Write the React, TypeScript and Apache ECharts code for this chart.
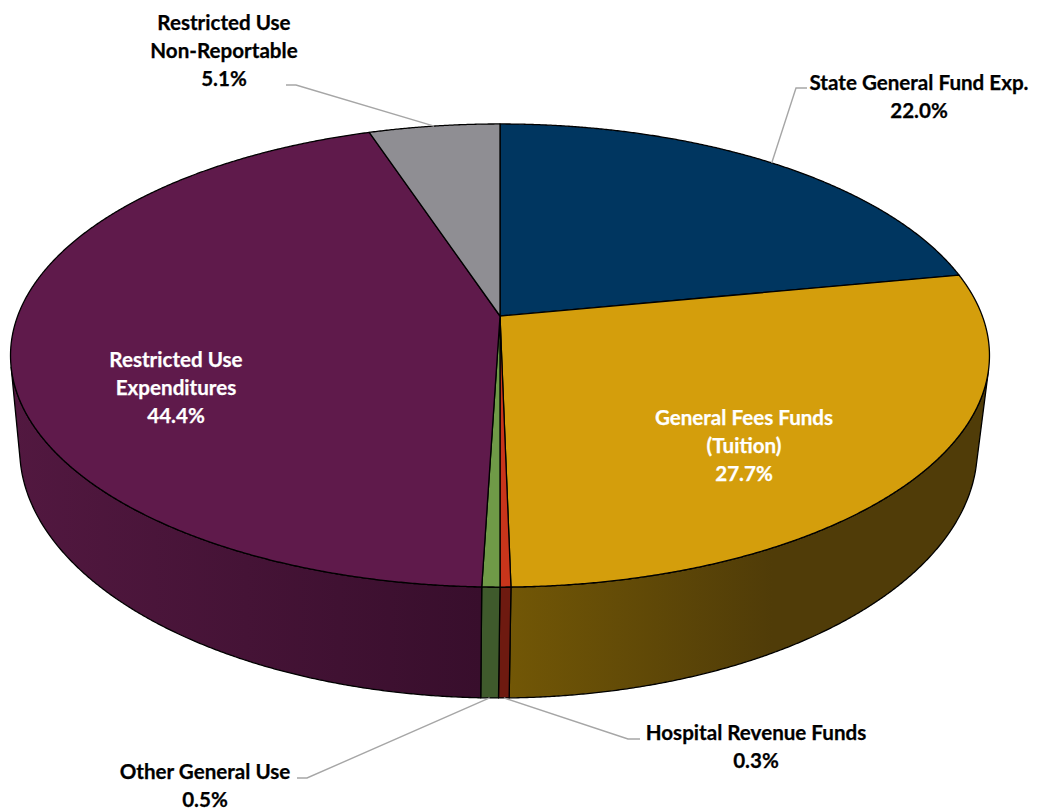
import React, { useEffect, useRef } from "react";
import * as echarts from "echarts";

const categories = [
  "State General Fund Exp.",
  "General Fees Funds (Tuition)",
  "Hospital Revenue Funds",
  "Other General Use",
  "Restricted Use Expenditures",
  "Restricted Use Non-Reportable",
];
const shares = [22.0, 27.7, 0.3, 0.5, 44.4, 5.1];
const labelLines = [
  ["State General Fund Exp."],
  ["General Fees Funds", "(Tuition)"],
  ["Hospital Revenue Funds"],
  ["Other General Use"],
  ["Restricted Use", "Expenditures"],
  ["Restricted Use", "Non-Reportable"],
];

const topColours = ["#003660", "#d49e0c", "#c8351b", "#6f9a47", "#5f1a4b", "#8f8e93"];
const wallStops: [number, string][][] = [
  [[0, "#00213b"], [1, "#00213b"]],
  [[0, "#725706"], [0.55, "#503c08"], [1, "#503c08"]],
  [[0, "#6e1a10"], [1, "#6e1a10"]],
  [[0, "#3f5a2c"], [1, "#3f5a2c"]],
  [[0, "#521840"], [1, "#380e2c"]],
  [[0, "#57565a"], [1, "#57565a"]],
];
const labelColours = ["#000", "#fff", "#000", "#000", "#fff", "#000"];
const labelAnchors = [
  [919, 82],
  [744, 417],
  [756, 732],
  [205, 771],
  [176, 359],
  [224, 22],
];
const elbows: (number[][] | null)[] = [
  [[807, 88], [796, 88]],
  null,
  [[640, 739], [628, 739]],
  [[297, 778], [307, 778]],
  null,
  [[286, 85], [296, 85]],
];
const leaderEnd = ["top", "", "bottom", "bottom", "", "top"];

const CX = 500;
const CY = 316;
const A = 482.3;
const B = 224.8;
const K = 0.1706;
const DEPTH = 92;
const VANISH_Y = 4700;
const BOTTOM_SHIFT = -1.5;
const LINE_H = 28;
const ARC_STEP = 0.004;

const rad = (p: number) => (p / 100) * Math.PI * 2;
const topPoint = (t: number) => {
  const u = Math.sin(t);
  const v = -Math.cos(t);
  const w = 1 - K * v;
  return [CX + (A * u) / w, CY + (B * v) / w, w];
};
const bottomPoint = (t: number) => {
  const [x, y, w] = topPoint(t);
  const d = DEPTH / w;
  return [CX + BOTTOM_SHIFT + (x - CX) * (1 - d / (VANISH_Y - y)), y + d];
};
const faces = (t: number) => {
  const e = 0.001;
  const a = topPoint(t - e);
  const b = topPoint(t + e);
  const p = topPoint(t);
  const q = bottomPoint(t);
  return (b[0] - a[0]) * (q[1] - p[1]) - (b[1] - a[1]) * (q[0] - p[0]) < 0;
};
const arcAngles = (s: number, e: number) => {
  const n = Math.max(2, Math.ceil((e - s) / ARC_STEP));
  const out: number[] = [];
  for (let i = 0; i <= n; i++) out.push(s + ((e - s) * i) / n);
  return out;
};

const starts: number[] = [];
shares.reduce((acc, v, i) => {
  starts[i] = acc;
  return acc + v;
}, 0);
const rows = shares.map((v, i) => [starts[i], starts[i] + v, i]);

function renderWall(_p: any, api: any) {
  const i = api.value(2);
  const ts = arcAngles(rad(api.value(0)), rad(api.value(1))).filter(faces);
  if (ts.length < 2) return { type: "group", children: [] };
  const points = [
    ...ts.map((t) => topPoint(t).slice(0, 2)),
    ...ts.slice().reverse().map((t) => bottomPoint(t)),
  ];
  return {
    type: "polygon",
    shape: { points },
    style: {
      fill: new echarts.graphic.LinearGradient(
        0,
        0,
        1,
        0,
        wallStops[i].map(([offset, color]) => ({ offset, color }))
      ),
      stroke: "#000",
      lineWidth: 1.3,
      lineJoin: "round",
    },
  };
}

function renderTop(_p: any, api: any) {
  const i = api.value(2);
  const ts = arcAngles(rad(api.value(0)), rad(api.value(1)));
  return {
    type: "polygon",
    shape: { points: [[CX, CY], ...ts.map((t) => topPoint(t).slice(0, 2))] },
    style: { fill: topColours[i], stroke: "#000", lineWidth: 1.3, lineJoin: "round" },
  };
}

function renderLabel(_p: any, api: any) {
  const i = api.value(2);
  const mid = rad((api.value(0) + api.value(1)) / 2);
  const children: any[] = [];
  const elbow = elbows[i];
  if (elbow) {
    const end = leaderEnd[i] === "top" ? topPoint(mid).slice(0, 2) : bottomPoint(mid);
    children.push({
      type: "polyline",
      shape: { points: [...elbow, end] },
      style: { fill: null, stroke: "#a6a6a6", lineWidth: 1.4 },
    });
  }
  const [lx, ly] = labelAnchors[i];
  const lines = [...labelLines[i], `${shares[i].toFixed(1)}%`];
  lines.forEach((text, n) => {
    children.push({
      type: "text",
      style: {
        text,
        x: lx,
        y: ly + n * LINE_H,
        textAlign: "center",
        textVerticalAlign: "middle",
        fontFamily: "Lato",
        fontWeight: 700,
        fontSize: 20.6,
        fill: labelColours[i],
        stroke: labelColours[i],
        lineWidth: 0.25,
      },
    });
  });
  return { type: "group", children };
}

export default function App() {
  const ref = useRef<HTMLDivElement>(null);
  useEffect(() => {
    const chart = echarts.init(ref.current!, null, { renderer: "svg" });
    const base = { type: "custom", coordinateSystem: "none", silent: true, data: rows, encode: {} };
    chart.setOption({
      animation: false,
      backgroundColor: "#fff",
      series: [
        { ...base, name: "walls", z: 1, renderItem: renderWall },
        { ...base, name: "tops", z: 2, renderItem: renderTop },
        { ...base, name: categories.join(" / "), z: 3, renderItem: renderLabel },
      ],
    });
    return () => chart.dispose();
  }, []);
  return <div ref={ref} style={{ position: "absolute", left: 0, top: 0, width: 1040, height: 810 }} />;
}
